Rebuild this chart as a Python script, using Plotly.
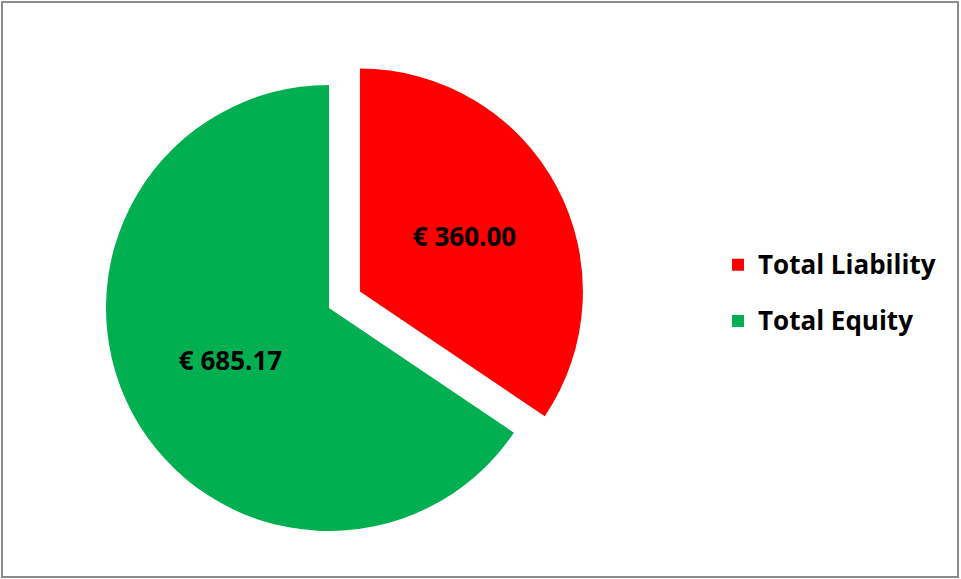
import plotly.graph_objects as go

labels = ["Total Liability", "Total Equity"]
values = [360.00, 685.17]
colors = ["#FF0000", "#00B050"]
pulls = [0.157, 0]

W, H = 961, 579
cx, cy, r = 329, 308, 223
half = r * (1 + max(pulls))

legend_labels = [f'<span style="font-size:26px;baseline-shift:7px">{l}</span>'
                 for l in labels]

fig = go.Figure(go.Pie(
    labels=legend_labels,
    values=values,
    sort=False,
    direction="clockwise",
    rotation=0,
    pull=pulls,
    marker=dict(colors=colors, line=dict(width=0)),
    texttemplate="€ %{value:.2f}",
    textposition="inside",
    insidetextorientation="horizontal",
    textfont=dict(family="Open Sans", size=26, color="black", weight="bold"),
    domain=dict(x=[(cx - half) / W, (cx + half) / W],
                y=[1 - (cy + half) / H, 1 - (cy - half) / H]),
    hoverinfo="label+value",
))

fig.update_layout(
    width=W, height=H,
    margin=dict(l=0, r=0, t=0, b=0),
    paper_bgcolor="white",
    plot_bgcolor="white",
    showlegend=True,
    legend=dict(
        x=718 / W, y=1 - 293 / H, xanchor="left", yanchor="middle",
        font=dict(family="Open Sans", size=41, color="black", weight="bold"),
        itemsizing="constant",
        bgcolor="rgba(0,0,0,0)",
    ),
    shapes=[dict(type="rect", xref="paper", yref="paper",
                 x0=2 / W, x1=958 / W, y0=1 - 577 / H, y1=1 - 2 / H,
                 line=dict(color="#8C8C8C", width=2))],
)

fig.write_html("out.html", config={"displayModeBar": False},
               post_script="document.body.style.margin='0';")
